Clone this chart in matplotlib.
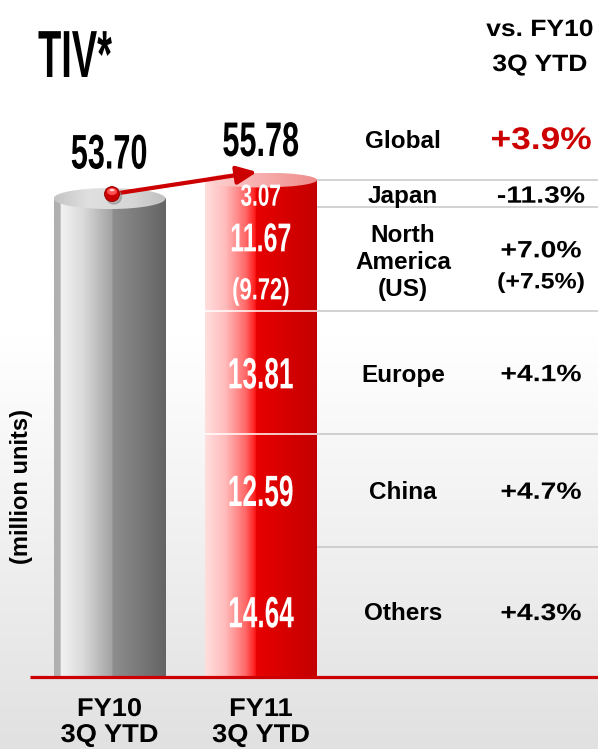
import numpy as np
import matplotlib
matplotlib.use('Agg')
import matplotlib.pyplot as plt
from matplotlib.colors import LinearSegmentedColormap
from matplotlib.patches import Ellipse
from matplotlib.patheffects import AbstractPathEffect
from matplotlib.transforms import Affine2D

# ---------------- data ----------------
periods = ['FY10\n3Q YTD', 'FY11\n3Q YTD']
fy10_total = 53.70
regions = ['Others', 'China', 'Europe', 'North\nAmerica\n(US)', 'Japan']
fy11_values = [14.64, 12.59, 13.81, 11.67, 3.07]
us_value = 9.72
growth = ['+4.3%', '+4.7%', '+4.1%', '+7.0%', '-11.3%']
us_growth = '(+7.5%)'
global_label = 'Global'
global_growth = '+3.9%'
title = 'TIV*'
unit_label = '(million units)'
header = ['vs. FY10', '3Q YTD']

fy11_total = round(sum(fy11_values), 2)

plt.rcParams['font.family'] = ['Liberation Sans', 'DejaVu Sans']


class Stretch(AbstractPathEffect):
    """Horizontally scale glyph outlines about their centre."""
    def __init__(self, sx):
        super().__init__()
        self.sx = sx

    def draw_path(self, renderer, gc, tpath, affine, rgbFace=None):
        v = tpath.vertices
        cx = 0.5 * (v[:, 0].min() + v[:, 0].max()) if len(v) else 0.0
        t = Affine2D().translate(-cx, 0).scale(self.sx, 1).translate(cx, 0) + affine
        renderer.draw_path(gc, tpath, t, rgbFace)


W, H = 598, 749
S = 8.91          # pixels per million units
BASE = 677        # baseline pixel row
fig = plt.figure(figsize=(W / 100, H / 100), dpi=100)
ax = fig.add_axes([0, 0, 1, 1])
ylo, yhi = -(H - BASE) / S, BASE / S


def py(px):
    return (BASE - px) / S


def off(v, px):
    return v - px / S


def grad(stops, n=256):
    cm = LinearSegmentedColormap.from_list('g', stops)
    return cm(np.linspace(0, 1, n))


# background
bg = grad([(0, '#ffffff'), (0.45, '#ffffff'), (1, '#e1e1e1')])[:, None, :]
ax.imshow(bg, extent=[0, W, ylo, yhi], aspect='auto', origin='upper', zorder=0,
          interpolation='bilinear')

gray_body = [(0, '#b0b0b0'), (0.055, '#b0b0b0'), (0.06, '#f2f2f2'), (0.25, '#dcdcdc'),
             (0.52, '#a2a2a2'), (0.525, '#8e8e8e'), (1, '#646464')]
red_body = [(0, '#ffdede'), (0.18, '#ffbcbc'), (0.36, '#ff6a6a'), (0.45, '#ff1a1a'),
            (0.457, '#e80000'), (1, '#c40000')]
gray_top = [(0, '#c4c4c4'), (0.3, '#e0e0e0'), (0.7, '#d6d6d6'), (1, '#c0c0c0')]
red_top = [(0, '#ffd6d6'), (0.4, '#f9b4b4'), (1, '#ef8c8c')]

bar_w = 112
xc = [109.5, 261]


def cylinder(x, top, body, topc, eh_px):
    x0, x1 = x - bar_w / 2, x + bar_w / 2
    ax.imshow(grad(body)[None, :, :], extent=[x0, x1, 0, top], aspect='auto',
              zorder=2, interpolation='bilinear')
    eh = eh_px / S
    e = Ellipse((x, top), bar_w, eh, facecolor='none', edgecolor='none', zorder=3)
    ax.add_patch(e)
    im = ax.imshow(grad(topc)[None, :, :], extent=[x0, x1, top - eh / 2, top + eh / 2],
                   aspect='auto', zorder=3, interpolation='bilinear')
    im.set_clip_path(e)


cylinder(xc[0], fy10_total, gray_body, gray_top, 21)
cylinder(xc[1], fy11_total, red_body, red_top, 15)

cum = np.cumsum(fy11_values)
bottoms = cum - np.array(fy11_values)
rx1 = xc[1] + bar_w / 2
# row separators
for b in cum:
    ax.plot([rx1, W], [b, b], color='#c6c6c6', lw=1.1, zorder=2, solid_capstyle='butt')
# white dividers inside red bar
for b in cum[1:3]:
    ax.plot([xc[1] - bar_w / 2, rx1], [b, b], color='white', lw=1.1, zorder=3,
            solid_capstyle='butt')

# baseline
ax.plot([30, W], [0, 0], color='#cc0000', lw=2.3, zorder=5, solid_capstyle='butt')

# arrow and ball
ball_x = 112
ball_y = fy10_total + 0.5
ax.annotate('', xy=(257, fy11_total + 0.9), xytext=(ball_x, ball_y),
            arrowprops=dict(arrowstyle='-|>,head_length=1.0,head_width=0.45',
                            color='#cc0000', lw=3, mutation_scale=12,
                            shrinkA=0, shrinkB=0), zorder=4)
r = 15
ax.add_patch(Ellipse((ball_x + 2, ball_y - 2.5 / S), r, r / S, color='#8a8a8a', alpha=0.5, zorder=5))
ax.add_patch(Ellipse((ball_x, ball_y), r, r / S, facecolor='#c80000', edgecolor='#9a0000',
                     lw=0.6, zorder=5))
ax.add_patch(Ellipse((ball_x, ball_y + 2.5 / S), 10, 7 / S, facecolor='#ff5050', edgecolor='none',
                     zorder=5))
ax.add_patch(Ellipse((ball_x, ball_y + 4.0 / S), 5, 2.5 / S, facecolor='#ffd0d0', edgecolor='none',
                     zorder=5))


def txt(x, y, s, size, sx=1.0, color='black', ha='center', va='baseline', **kw):
    t = ax.text(x, y, s, fontsize=size, color=color, fontweight='bold', ha=ha, va=va,
                zorder=6, **kw)
    if sx != 1.0:
        t.set_path_effects([Stretch(sx)])
    return t


# titles
txt(75, py(77), title, 48, sx=0.57)
for i, h in enumerate(header):
    txt(540, py(36 + 35 * i), h, 17, sx=1.12)
txt(22, py(487), unit_label, 17, va='center', rotation=90)

# totals
txt(xc[0], off(fy10_total, -30), f'{fy10_total:.2f}', 35, sx=0.63)
txt(xc[1], off(fy11_total, -24), f'{fy11_total:.2f}', 35, sx=0.63)

LX, PX = 403, 541
txt(LX, py(148), global_label, 17.5)
txt(PX, py(149), global_growth, 22.5, sx=1.13, color='#cc0000')

for i, (reg, v, g) in enumerate(zip(regions, fy11_values, growth)):
    c = bottoms[i] + v / 2
    if reg.startswith('North'):
        for j, line in enumerate(reg.split('\n')):
            txt(LX, off(c, -17 + 27 * j), line, 17.5)
        txt(xc[1], off(c, -8), f'{v:.2f}', 29, sx=0.62, color='white')
        txt(xc[1], off(c, 40), f'({us_value:.2f})', 22, sx=0.72, color='white')
        txt(PX, off(c, -2), g, 17, sx=1.2)
        txt(PX, off(c, 29), us_growth, 16, sx=1.12)
    elif reg == 'Japan':
        txt(LX, off(c, 9), reg, 17.5)
        txt(PX, off(c, 9), g, 17, sx=1.2)
        txt(xc[1], off(c, 12), f'{v:.2f}', 22, sx=0.68, color='white')
    else:
        txt(LX, off(c, 8.7), reg, 17.5)
        txt(PX, off(c, 8.3), g, 17, sx=1.2)
        txt(xc[1], off(c, 15.5), f'{v:.2f}', 31.5, sx=0.6, color='white')

# period labels
for x, p in zip(xc, periods):
    l1, l2 = p.split('\n')
    txt(x, py(716), l1, 18.5, sx=1.06)
    txt(x, py(742), l2, 18.5, sx=1.06)

ax.set_xlim(0, W)
ax.set_ylim(ylo, yhi)
ax.axis('off')
fig.savefig('out.png', dpi=100)
